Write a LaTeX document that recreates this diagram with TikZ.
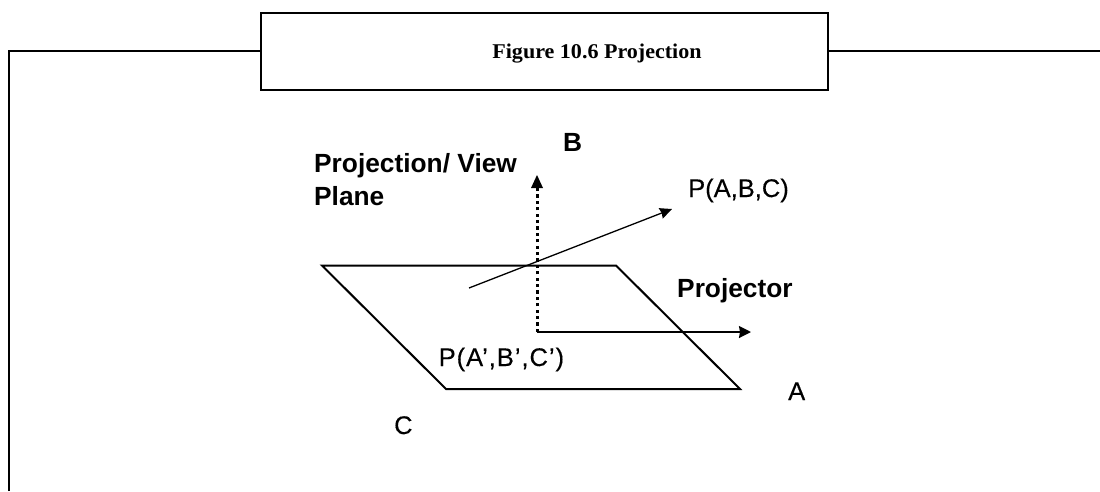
\documentclass[tikz,border=0pt]{standalone}
\usepackage{fontspec}
\setmainfont{Liberation Sans}
\newfontfamily\titlefont[FakeStretch=1.05]{Liberation Serif}
\newfontfamily\labfont[FakeBold=0.25]{Liberation Sans}
\newfontfamily\widelabfont[FakeBold=0.25,LetterSpace=3.8]{Liberation Sans}
\usetikzlibrary{arrows.meta}
\tikzset{
  x=1pt,y=-1pt,
  frameline/.style={line width=2pt,black},
  planeline/.style={line width=2pt,black,line join=miter},
  ray/.style={line width=1.3pt,black,-{Stealth[length=12pt,width=11pt,inset=1pt]}},
  thickray/.style={line width=1.8pt,black,-{Stealth[length=12pt,width=12pt,inset=1pt]}},
  dotray/.style={line width=3pt,black,dash pattern=on 3.2pt off 3.2pt},
  lab/.style={inner sep=0pt,anchor=base west,font=\labfont\fontsize{25.5}{25.5}\selectfont},
  widelab/.style={inner sep=0pt,anchor=base west,font=\widelabfont\fontsize{25.5}{25.5}\selectfont},
  blab/.style={inner sep=0pt,anchor=base west,font=\fontsize{26.3}{26.3}\selectfont\bfseries},
}
\begin{document}
\begin{tikzpicture}
\useasboundingbox (0,0) rectangle (1100,491);
\coordinate (fa) at (9,491);
\coordinate (fb) at (9,51);
\coordinate (fc) at (260,51);
\coordinate (fd) at (827,51);
\coordinate (fe) at (1100,51);
\draw[frameline] (fa) -- (fb) -- (fc);
\draw[frameline] (fd) -- (fe);
\node[draw,frameline,minimum width=567pt,minimum height=77pt,inner sep=0pt,anchor=north west] (title) at (260,12) {};
\node[inner sep=0pt,anchor=base,font=\titlefont\bfseries\fontsize{21}{21}\selectfont] (titletext) at (597,58.3) {Figure 10.6 Projection};
\coordinate (p1) at (322,265.5);
\coordinate (p2) at (616,265.5);
\coordinate (p3) at (740,389);
\coordinate (p4) at (446,389);
\draw[planeline] (p1) -- (p2) -- (p3) -- (p4) -- cycle;
\coordinate (o) at (537,332);
\coordinate (bt) at (537,175);
\coordinate (at) at (751,332);
\coordinate (rs) at (469,288);
\coordinate (rt) at (672,209);
\draw[dotray] (o) -- (537,186);
\fill (bt) -- (543,188) -- (531,188) -- cycle;
\draw[thickray] (o) -- (at);
\draw[ray] (rs) -- (rt);
\node[blab] (lb) at (563,151) {B};
\node[blab] (lpv) at (314,172.7) {Projection/ View};
\node[blab] (lpl) at (314,205) {Plane};
\node[lab] (lpabc) at (688,197) {P(A,B,C)};
\node[blab] (lproj) at (677,297.7) {Projector};
\node[widelab] (lpp) at (438.5,366) {P(A’,B’,C’)};
\node[lab] (la) at (788,400) {A};
\node[lab] (lc) at (394,434) {C};
\end{tikzpicture}
\end{document}
